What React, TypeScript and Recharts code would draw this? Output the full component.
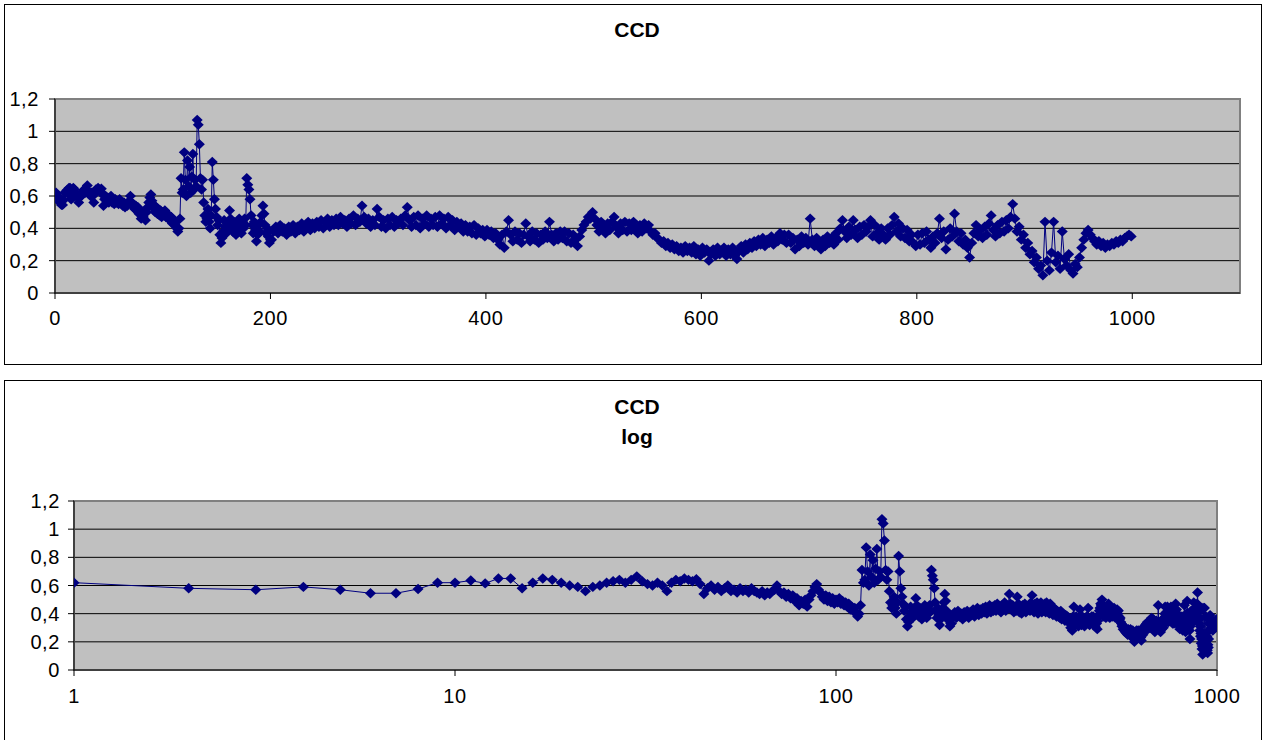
import { ScatterChart, Scatter, XAxis, YAxis, CartesianGrid, ReferenceArea } from 'recharts'

// CCD values, sampled at x = 1..40
const ccdHead = [
  0.62, 0.58, 0.57, 0.59, 0.57, 0.545, 0.545, 0.575, 0.62, 0.62,
  0.635, 0.615, 0.65, 0.65, 0.58, 0.62, 0.65, 0.64, 0.62, 0.6,
  0.59, 0.56, 0.59, 0.6, 0.62, 0.63, 0.64, 0.62, 0.64, 0.665,
  0.63, 0.61, 0.6, 0.62, 0.6, 0.56, 0.62, 0.64, 0.63, 0.65,
]

// x = 41..114
const ccdEarly = [
  0.64, 0.63, 0.645, 0.61, 0.54, 0.58, 0.6, 0.57, 0.59, 0.56,
  0.58, 0.6, 0.56, 0.57, 0.55, 0.58, 0.56, 0.57, 0.55, 0.58,
  0.56, 0.55, 0.54, 0.56, 0.53, 0.55, 0.54, 0.56, 0.57, 0.6,
  0.56, 0.54, 0.55, 0.52, 0.54, 0.51, 0.53, 0.49, 0.51, 0.46,
  0.49, 0.47, 0.5, 0.45, 0.5, 0.53, 0.56, 0.59, 0.61, 0.57,
  0.55, 0.52, 0.5, 0.53, 0.49, 0.52, 0.48, 0.51, 0.47, 0.5,
  0.48, 0.51, 0.47, 0.49, 0.46, 0.48, 0.45, 0.47, 0.43, 0.45,
  0.42, 0.44, 0.4, 0.38,
]

// x = 115..140, the spike zone
const ccdPeak = [
  0.4, 0.46, 0.71, 0.62, 0.64, 0.87, 0.7, 0.6, 0.82, 0.66,
  0.78, 0.62, 0.72, 0.86, 0.64, 0.7, 0.66, 1.07, 1.04, 0.92,
  0.71, 0.64, 0.7, 0.56, 0.48, 0.44,
]

// x = 141..200
const ccdLate = [
  0.46, 0.52, 0.44, 0.4, 0.48, 0.81, 0.7, 0.58, 0.52, 0.47,
  0.42, 0.45, 0.36, 0.31, 0.34, 0.38, 0.45, 0.41, 0.37, 0.43,
  0.4, 0.51, 0.46, 0.42, 0.38, 0.44, 0.4, 0.36, 0.42, 0.38,
  0.46, 0.42, 0.37, 0.44, 0.4, 0.46, 0.42, 0.71, 0.67, 0.64,
  0.58, 0.48, 0.42, 0.37, 0.44, 0.39, 0.32, 0.36, 0.42, 0.38,
  0.44, 0.48, 0.54, 0.49, 0.42, 0.37, 0.4, 0.35, 0.31, 0.33,
]

// x = 201..999, every 2nd (one row = 30 steps of x)
const ccdTail = [
  0.33, 0.38, 0.41, 0.37, 0.42, 0.38, 0.4, 0.36, 0.41, 0.38, 0.42, 0.37, 0.41, 0.39, 0.43,
  0.38, 0.42, 0.44, 0.39, 0.43, 0.4, 0.44, 0.41, 0.45, 0.4, 0.44, 0.46, 0.41, 0.45, 0.42,
  0.46, 0.42, 0.47, 0.43, 0.45, 0.41, 0.46, 0.43, 0.48, 0.42, 0.46, 0.44, 0.54, 0.47, 0.43,
  0.46, 0.41, 0.45, 0.42, 0.52, 0.47, 0.41, 0.45, 0.4, 0.46, 0.42, 0.47, 0.41, 0.45, 0.43,
  0.46, 0.42, 0.48, 0.53, 0.45, 0.41, 0.47, 0.42, 0.48, 0.4, 0.46, 0.43, 0.48, 0.41, 0.46,
  0.42, 0.47, 0.41, 0.48, 0.43, 0.46, 0.4, 0.47, 0.42, 0.45, 0.39, 0.44, 0.41, 0.43, 0.38,
  0.42, 0.38, 0.41, 0.37, 0.42, 0.36, 0.4, 0.37, 0.39, 0.35, 0.39, 0.36, 0.38, 0.34, 0.37,
  0.33, 0.3, 0.36, 0.28, 0.38, 0.45, 0.36, 0.32, 0.38, 0.33, 0.37, 0.31, 0.36, 0.43, 0.35,
  0.32, 0.38, 0.33, 0.37, 0.31, 0.36, 0.33, 0.38, 0.34, 0.44, 0.36, 0.32, 0.37, 0.33, 0.38,
  0.34, 0.38, 0.32, 0.37, 0.31, 0.36, 0.33, 0.29, 0.35, 0.39, 0.42, 0.44, 0.47, 0.46, 0.5,
  0.46, 0.42, 0.38, 0.44, 0.4, 0.37, 0.43, 0.39, 0.44, 0.47, 0.41, 0.37, 0.43, 0.39, 0.44,
  0.38, 0.43, 0.39, 0.44, 0.4, 0.37, 0.42, 0.38, 0.43, 0.4, 0.42, 0.38, 0.36, 0.37, 0.34,
  0.33, 0.31, 0.32, 0.29, 0.31, 0.28, 0.3, 0.27, 0.29, 0.26, 0.28, 0.25, 0.29, 0.26, 0.28,
  0.25, 0.29, 0.24, 0.27, 0.23, 0.28, 0.25, 0.27, 0.2, 0.24, 0.27, 0.23, 0.28, 0.24, 0.26,
  0.28, 0.23, 0.27, 0.24, 0.28, 0.23, 0.21, 0.26, 0.29, 0.25, 0.3, 0.27, 0.31, 0.28, 0.32,
  0.29, 0.33, 0.3, 0.34, 0.29, 0.33, 0.31, 0.35, 0.3, 0.34, 0.32, 0.37, 0.33, 0.36, 0.31,
  0.36, 0.31, 0.34, 0.27, 0.33, 0.29, 0.35, 0.31, 0.34, 0.3, 0.46, 0.33, 0.29, 0.34, 0.3,
  0.27, 0.33, 0.29, 0.35, 0.31, 0.34, 0.3, 0.37, 0.33, 0.4, 0.45, 0.38, 0.34, 0.41, 0.36,
  0.45, 0.39, 0.34, 0.41, 0.36, 0.42, 0.38, 0.41, 0.45, 0.35, 0.42, 0.37, 0.33, 0.4, 0.36,
  0.33, 0.4, 0.36, 0.42, 0.47, 0.38, 0.43, 0.35, 0.4, 0.34, 0.39, 0.32, 0.36, 0.31, 0.29,
  0.36, 0.3, 0.37, 0.31, 0.38, 0.33, 0.28, 0.35, 0.31, 0.37, 0.46, 0.34, 0.38, 0.27, 0.33,
  0.4, 0.35, 0.49, 0.38, 0.32, 0.37, 0.3, 0.33, 0.28, 0.22, 0.31, 0.37, 0.42, 0.35, 0.39,
  0.34, 0.41, 0.36, 0.43, 0.48, 0.39, 0.35, 0.42, 0.37, 0.44, 0.38, 0.45, 0.4, 0.47, 0.55,
  0.46, 0.38, 0.41, 0.33, 0.36, 0.28, 0.31, 0.24, 0.26, 0.19, 0.22, 0.15, 0.17, 0.11, 0.44,
  0.2, 0.14, 0.25, 0.44, 0.19, 0.23, 0.15, 0.38, 0.21, 0.17, 0.24, 0.14, 0.12, 0.18, 0.16,
  0.22, 0.28, 0.33, 0.37, 0.39, 0.36, 0.34, 0.32, 0.3, 0.32, 0.29, 0.31, 0.28, 0.3, 0.29,
  0.31, 0.3, 0.32, 0.31, 0.33, 0.32, 0.34, 0.35, 0.36, 0.35,
]

const linearTicks = [0, 200, 400, 600, 800, 1000]
const logTicks = [1, 10, 100, 1000]
const yTicks = [0, 0.2, 0.4, 0.6, 0.8, 1, 1.2]

const NAVY = '#000080'
const FONT = "'Liberation Sans', Arial, sans-serif"

function sampled(values: number[], start: number, step: number) {
  return values.map((y, i) => ({ x: start + i * step, y }))
}

const ccdData = [
  ...sampled(ccdHead, 1, 1),
  ...sampled(ccdEarly, 41, 1),
  ...sampled(ccdPeak, 115, 1),
  ...sampled(ccdLate, 141, 1),
  ...sampled(ccdTail, 201, 2),
]

const fmtY = (v: number) => String(Math.round(v * 10) / 10).replace('.', ',')

function Diamond(props: any) {
  const { cx, cy } = props
  if (cx == null || cy == null) return null
  const rx = 5.5
  const ry = 5.2
  return (
    <polygon
      points={`${cx},${cy - ry} ${cx + rx},${cy} ${cx},${cy + ry} ${cx - rx},${cy}`}
      fill={NAVY}
    />
  )
}

const tickStyle = { fontSize: 20, fill: '#000', fontFamily: FONT, letterSpacing: 0.6 }

function Frame({ top, height }: { top: number; height: number }) {
  return (
    <div
      style={{
        position: 'absolute',
        left: 4,
        top,
        width: 1258,
        height,
        border: '1px solid #000',
        boxSizing: 'border-box',
      }}
    />
  )
}

function Title({ top, text }: { top: number; text: string }) {
  return (
    <div
      style={{
        position: 'absolute',
        left: 537,
        top,
        width: 200,
        textAlign: 'center',
        fontFamily: FONT,
        fontWeight: 'bold',
        fontSize: 21,
        lineHeight: '24px',
      }}
    >
      {text}
    </div>
  )
}

export default function App() {
  return (
    <div style={{ position: 'absolute', left: 0, top: 0, width: 1263, height: 740, background: '#fff', overflow: 'hidden' }}>
      <Frame top={4} height={361} />
      <Frame top={380} height={370} />
      <Title top={18} text="CCD" />
      <Title top={395} text="CCD" />
      <Title top={425} text="log" />

      <div style={{ position: 'absolute', left: 0, top: 0 }}>
        <ScatterChart width={1263} height={370} margin={{ top: 99, right: 23, bottom: 47, left: 0 }}>
          <CartesianGrid vertical={false} stroke="#000" fill="#C0C0C0" fillOpacity={1} />
          <ReferenceArea x1={0} x2={1100} y1={0} y2={1.2} fill="none" stroke="#808080" strokeWidth={2} />
          <XAxis
            type="number"
            dataKey="x"
            domain={[0, 1100]}
            ticks={linearTicks}
            allowDataOverflow
            height={30}
            tickSize={6}
            tickMargin={12}
            stroke="#000"
            tick={tickStyle}
          />
          <YAxis
            type="number"
            dataKey="y"
            domain={[0, 1.2]}
            ticks={yTicks}
            width={55}
            tickSize={6}
            tickMargin={10}
            stroke="#000"
            tick={tickStyle}
            tickFormatter={fmtY}
          />
          <Scatter
            data={ccdData}
            fill={NAVY}
            line={{ stroke: NAVY, strokeWidth: 1 }}
            lineType="joint"
            shape={<Diamond />}
            isAnimationActive={false}
          />
        </ScatterChart>
      </div>

      <div style={{ position: 'absolute', left: 0, top: 370 }}>
        <ScatterChart width={1263} height={370} margin={{ top: 131, right: 46, bottom: 40, left: 0 }}>
          <CartesianGrid vertical={false} stroke="#000" fill="#C0C0C0" fillOpacity={1} />
          <ReferenceArea x1={1} x2={1000} y1={0} y2={1.2} fill="none" stroke="#808080" strokeWidth={2} />
          <XAxis
            type="number"
            dataKey="x"
            scale="log"
            domain={[1, 1000]}
            ticks={logTicks}
            allowDataOverflow
            height={30}
            tickSize={6}
            tickMargin={13}
            stroke="#000"
            tick={tickStyle}
          />
          <YAxis
            type="number"
            dataKey="y"
            domain={[0, 1.2]}
            ticks={yTicks}
            width={74}
            tickSize={6}
            tickMargin={8}
            stroke="#000"
            tick={tickStyle}
            tickFormatter={fmtY}
          />
          <Scatter
            data={ccdData}
            fill={NAVY}
            line={{ stroke: NAVY, strokeWidth: 1 }}
            lineType="joint"
            shape={<Diamond />}
            isAnimationActive={false}
          />
        </ScatterChart>
      </div>
    </div>
  )
}
